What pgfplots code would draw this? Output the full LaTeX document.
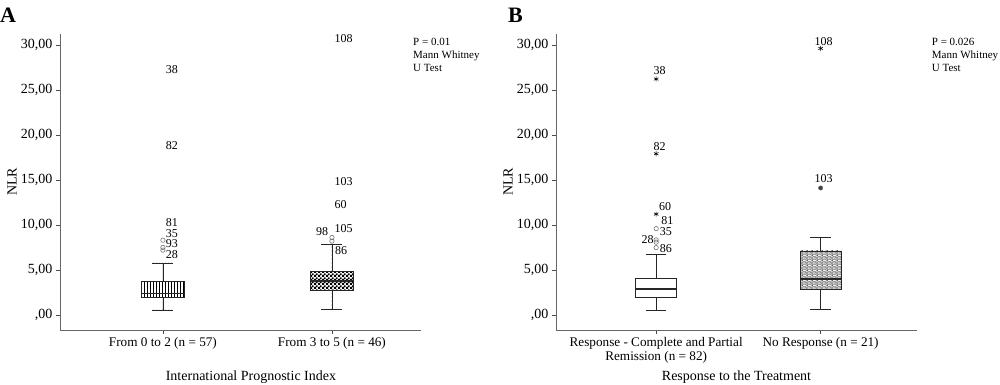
\documentclass[border=0pt]{standalone}
\usepackage{fontspec}
\setmainfont{Liberation Serif}
\usepackage{pgfplots}
\pgfplotsset{compat=1.18}
\usepgfplotslibrary{statistics}
\usetikzlibrary{patterns,patterns.meta}

\pgfdeclarepattern{
  name=finechecker, type=uncolored,
  bottom left={\pgfpoint{0pt}{0pt}}, top right={\pgfpoint{4.2pt}{4.2pt}},
  tile size={\pgfpoint{4.2pt}{4.2pt}},
  code={
    \pgfpathrectangle{\pgfpoint{0pt}{0pt}}{\pgfpoint{2.4pt}{2.4pt}}
    \pgfpathrectangle{\pgfpoint{2.1pt}{2.1pt}}{\pgfpoint{2.1pt}{2.1pt}}
    \pgfusepath{fill}
  }}
\pgfdeclarepattern{
  name=dotgrid, type=colored,
  bottom left={\pgfpoint{0pt}{0pt}}, top right={\pgfpoint{5pt}{5pt}},
  tile size={\pgfpoint{5pt}{5pt}},
  code={
    \pgfsetcolor{black!50}
    \pgfsetlinewidth{0.6pt}
    \pgfpathmoveto{\pgfpoint{0pt}{0pt}}\pgfpathlineto{\pgfpoint{5pt}{5pt}}
    \pgfpathmoveto{\pgfpoint{0pt}{5pt}}\pgfpathlineto{\pgfpoint{5pt}{0pt}}
    \pgfusepath{stroke}
    \pgfsetfillcolor{black!85}
    \pgfpathcircle{\pgfpoint{2.5pt}{0pt}}{0.95pt}
    \pgfpathcircle{\pgfpoint{2.5pt}{5pt}}{0.95pt}
    \pgfpathcircle{\pgfpoint{0pt}{2.5pt}}{0.95pt}
    \pgfpathcircle{\pgfpoint{5pt}{2.5pt}}{0.95pt}
    \pgfusepath{fill}
  }}

\pgfplotsset{
 nlr/.style={
  scale only axis, width=361pt, height=296pt,
  ymin=-1.67, ymax=31.2,
  axis x line*=bottom, axis y line*=left,
  axis line style={black!60, line width=0.8pt},
  ytick={0,5,...,30},
  yticklabels={{,00},{5,00},{10,00},{15,00},{20,00},{25,00},{30,00}},
  xtick={1,2},
  tick align=outside, major tick length=4pt,
  tick style={black!70, line width=0.6pt},
  yticklabel style={font=\fontsize{14}{14}\selectfont},
  xticklabel style={align=center, font=\fontsize{13.2}{14}\selectfont},
  ylabel={NLR},
  label style={font=\fontsize{14}{15}\selectfont},
  y label style={at={(axis description cs:-0.133,0.5)}, anchor=center},
  boxplot/draw direction=y,
  boxplot/box extend=0.25, boxplot/whisker extend=0.125,
  boxplot/every median/.style={line width=1.6pt},
  clip=false,
 },
 boxst/.style={black!85, line width=0.7pt},
 circ/.style={only marks, mark=o, mark size=2.2pt, black!55, mark options={line width=0.6pt}},
 star/.style={only marks, mark=asterisk, mark size=2.6pt, black, mark options={line width=0.6pt}},
}
\tikzset{lbl/.style={font=\fontsize{12}{12}\selectfont, inner sep=0pt}}

\begin{document}
\begin{tikzpicture}[x=1pt,y=1pt]
\path[use as bounding box] (0,0) rectangle (1000,385);

% Panel A
\begin{axis}[nlr, at={(60pt,55pt)}, anchor=south west,
  xmin=0.391, xmax=2.527,
  xticklabels={{From 0 to 2 (n = 57)},{From 3 to 5 (n = 46)}},
  xlabel={International Prognostic Index},
  x label style={at={(axis description cs:0.529,-0.159)}, anchor=center},
]
\addplot[boxst, pattern=vertical lines, boxplot prepared={draw position=1,
  lower whisker=0.56, lower quartile=1.93, median=2.37,
  upper quartile=3.70, upper whisker=5.78}] coordinates {};
\addplot[boxst, pattern=finechecker, boxplot prepared={draw position=2,
  lower whisker=0.63, lower quartile=2.78, median=3.80,
  upper quartile=4.81, upper whisker=7.85}] coordinates {};
\addplot[circ] coordinates {(1,8.3) (1,7.5) (1,7.2) (2,8.6) (2,8.2)};
\node[lbl, anchor=west] at (axis cs:1.016,27.2) {38};
\node[lbl, anchor=west] at (axis cs:1.016,18.8) {82};
\node[lbl, anchor=west] at (axis cs:1.016,10.3) {81};
\node[lbl, anchor=west] at (axis cs:1.016,9.08) {35};
\node[lbl, anchor=west] at (axis cs:1.016,7.9) {93};
\node[lbl, anchor=west] at (axis cs:1.016,6.72) {28};
\node[lbl, anchor=west] at (axis cs:2.014,30.67) {108};
\node[lbl, anchor=west] at (axis cs:2.014,14.81) {103};
\node[lbl, anchor=west] at (axis cs:2.014,12.3) {60};
\node[lbl, anchor=west] at (axis cs:2.014,9.63) {105};
\node[lbl, anchor=east] at (axis cs:1.978,9.26) {98};
\node[lbl, anchor=west] at (axis cs:2.018,7.19) {86};
\end{axis}

% Panel B
\begin{axis}[nlr, at={(556pt,55pt)}, anchor=south west,
  xmin=0.391, xmax=2.586,
  xticklabels={{Response - Complete and Partial\\Remission (n = 82)},{No Response (n = 21)}},
  xlabel={Response to the Treatment},
  x label style={at={(axis description cs:0.5,-0.159)}, anchor=center},
]
\addplot[boxst, boxplot prepared={draw position=1,
  lower whisker=0.56, lower quartile=1.96, median=2.85,
  upper quartile=4.07, upper whisker=6.78}] coordinates {};
\addplot[boxst, pattern=dotgrid, boxplot prepared={draw position=2,
  lower whisker=0.60, lower quartile=2.89, median=4.00,
  upper quartile=7.11, upper whisker=8.63}] coordinates {};
\addplot[circ] coordinates {(1,9.59) (1,8.33) (1,8.08) (1,7.48)};
\addplot[star] coordinates {(1,26.2) (1,17.9) (1,11.2) (2,29.6)};
\addplot[only marks, mark=*, mark size=2.2pt, draw=black!60, fill=black!75] coordinates {(2,14.1)};
\node[lbl] at (axis cs:1.021,27.1) {38};
\node[lbl] at (axis cs:1.021,18.7) {82};
\node[lbl, anchor=west] at (axis cs:1.016,12.0) {60};
\node[lbl, anchor=west] at (axis cs:1.031,10.44) {81};
\node[lbl, anchor=west] at (axis cs:1.022,9.22) {35};
\node[lbl, anchor=east] at (axis cs:0.986,8.37) {28};
\node[lbl, anchor=west] at (axis cs:1.022,7.37) {86};
\node[lbl] at (axis cs:2.018,30.4) {108};
\node[lbl] at (axis cs:2.018,15.1) {103};
\end{axis}

% annotations and panel letters
\node[anchor=north west, align=left, inner sep=0pt, font=\fontsize{11}{13}\selectfont] at (413,347) {P = 0.01\\Mann Whitney\\U Test};
\node[anchor=north west, align=left, inner sep=0pt, font=\fontsize{11}{13}\selectfont] at (931.7,347) {P = 0.026\\Mann Whitney\\U Test};
\node[anchor=west, inner sep=0pt, font=\bfseries\fontsize{22}{22}\selectfont] at (0,370) {A};
\node[anchor=west, inner sep=0pt, font=\bfseries\fontsize{22}{22}\selectfont] at (508,370) {B};
\end{tikzpicture}
\end{document}
